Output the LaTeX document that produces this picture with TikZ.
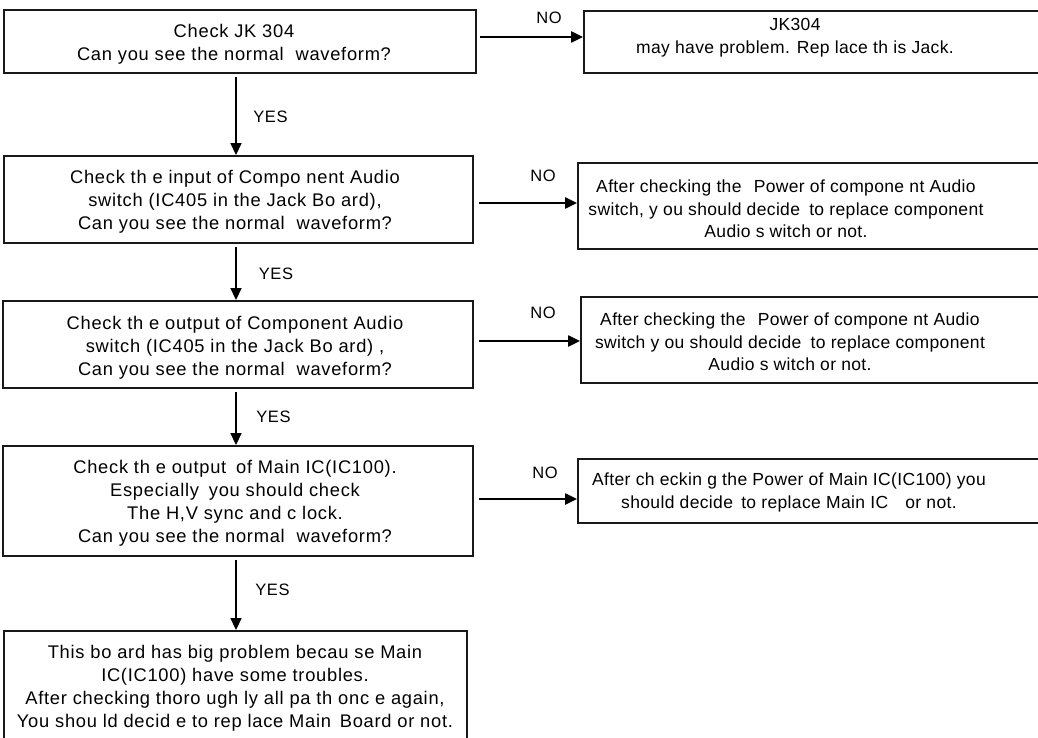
\documentclass[tikz,border=0pt]{standalone}
\usepackage{fontspec}
\setmainfont{Liberation Sans}[LetterSpace=4]
\newfontfamily\rboxfont{Liberation Sans}[LetterSpace=2]
\usetikzlibrary{arrows.meta}
\begin{document}
\begin{tikzpicture}[x=1pt,y=-1pt,
  box/.style={draw=black!90,line width=1.9pt,inner sep=0pt},
  txt/.style={align=center,font=\fontsize{18.3}{23.1}\selectfont,inner sep=0pt},
  rtxt/.style={align=center,font=\rboxfont\fontsize{17.5}{22.6}\selectfont,inner sep=0pt},
  lbl/.style={font=\fontsize{16.5}{18}\selectfont,inner sep=0pt},
  arr/.style={line width=1.7pt,-{Triangle[length=12pt,width=11pt]}},
  harr/.style={arr,line width=2.3pt}]
\fill[white] (0,0) rectangle (1038,738);
\useasboundingbox (0,0) rectangle (1038,738);
% left column boxes
\node[box,minimum width=472pt,minimum height=63pt] (b1) at (240,41.5) {};
\node[box,minimum width=469pt,minimum height=87pt] (b2) at (238.5,199.5) {};
\node[box,minimum width=470pt,minimum height=87pt] (b3) at (238,344.5) {};
\node[box,minimum width=470pt,minimum height=110pt] (b4) at (238,501) {};
\node[box,minimum width=463pt,minimum height=118pt] (b5) at (235.5,690) {};
% right column boxes
\node[box,minimum width=476pt,minimum height=62pt] (r1) at (822,42) {};
\node[box,minimum width=482pt,minimum height=86pt] (r2) at (819,206) {};
\node[box,minimum width=479pt,minimum height=86pt] (r3) at (820.5,340) {};
\node[box,minimum width=482pt,minimum height=64pt] (r4) at (819,491) {};
% texts
\node[txt] (t1) at (234,44) {Check JK 304\\Can you see the normal\hspace{6pt} waveform?};
\node[txt] (t2) at (235,202) {Check th e input of Compo nent Audio\\switch (IC405 in the Jack Bo ard),\\Can you see the normal\hspace{6pt} waveform?};
\node[txt] (t3) at (235,347.5) {Check th e output of Component Audio\\switch (IC405 in the Jack Bo ard) ,\\Can you see the normal\hspace{6pt} waveform?};
\node[txt] (t4) at (235,503) {Check th e output\hspace{4pt} of Main IC(IC100).\\Especially\hspace{4pt} you should check\\The H,V sync and c lock.\\Can you see the normal\hspace{6pt} waveform?};
\node[txt] (t5) at (235,688.5) {This bo ard has big problem becau se Main\\IC(IC100) have some troubles.\\After checking thoro ugh ly all pa th onc e again,\\You shou ld decid e to rep lace Main\hspace{3pt} Board or not.};
\node[rtxt] (s1) at (795,38) {JK304\\may have problem. Rep lace th is Jack.};
\node[rtxt] (s2) at (786,209) {After checking the\hspace{7pt} Power of compone nt Audio\\switch, y ou should decide\hspace{4pt} to replace component\\Audio s witch or not.};
\node[rtxt] (s3) at (790,342) {After checking the\hspace{7pt} Power of compone nt Audio\\switch y ou should decide\hspace{4pt} to replace component\\Audio s witch or not.};
\node[rtxt] (s4) at (789,492.5) {After ch eckin g the Power of Main IC(IC100) you\\should decide\hspace{3pt} to replace Main IC\hspace{12pt} or not.};
% vertical YES arrows
\coordinate (ax) at (236,0);
\draw[arr,shorten <=3pt] (b1.south -| ax) -- (b2.north -| ax);
\draw[arr,shorten <=3pt] (b2.south -| ax) -- (b3.north -| ax);
\draw[arr,shorten <=3pt] (b3.south -| ax) -- (b4.north -| ax);
\draw[arr,shorten <=3pt] (b4.south -| ax) -- (b5.north -| ax);
\node[lbl] (y1) at (270.5,116.5) {YES};
\node[lbl] (y2) at (276,274) {YES};
\node[lbl] (y3) at (273.5,416.5) {YES};
\node[lbl] (y4) at (272.5,590) {YES};
% horizontal NO arrows
\coordinate (n1) at (480,37);
\coordinate (n2) at (479,203);
\coordinate (n3) at (479,341);
\coordinate (n4) at (479,499);
\draw[harr] (n1) -- (n1 -| r1.west);
\draw[harr] (n2) -- (n2 -| r2.west);
\draw[harr] (n3) -- (n3 -| r3.west);
\draw[harr] (n4) -- (n4 -| r4.west);
\node[lbl] (o1) at (549,17.5) {NO};
\node[lbl] (o2) at (543,176) {NO};
\node[lbl] (o3) at (543,313) {NO};
\node[lbl] (o4) at (545,472.5) {NO};
\end{tikzpicture}
\end{document}
